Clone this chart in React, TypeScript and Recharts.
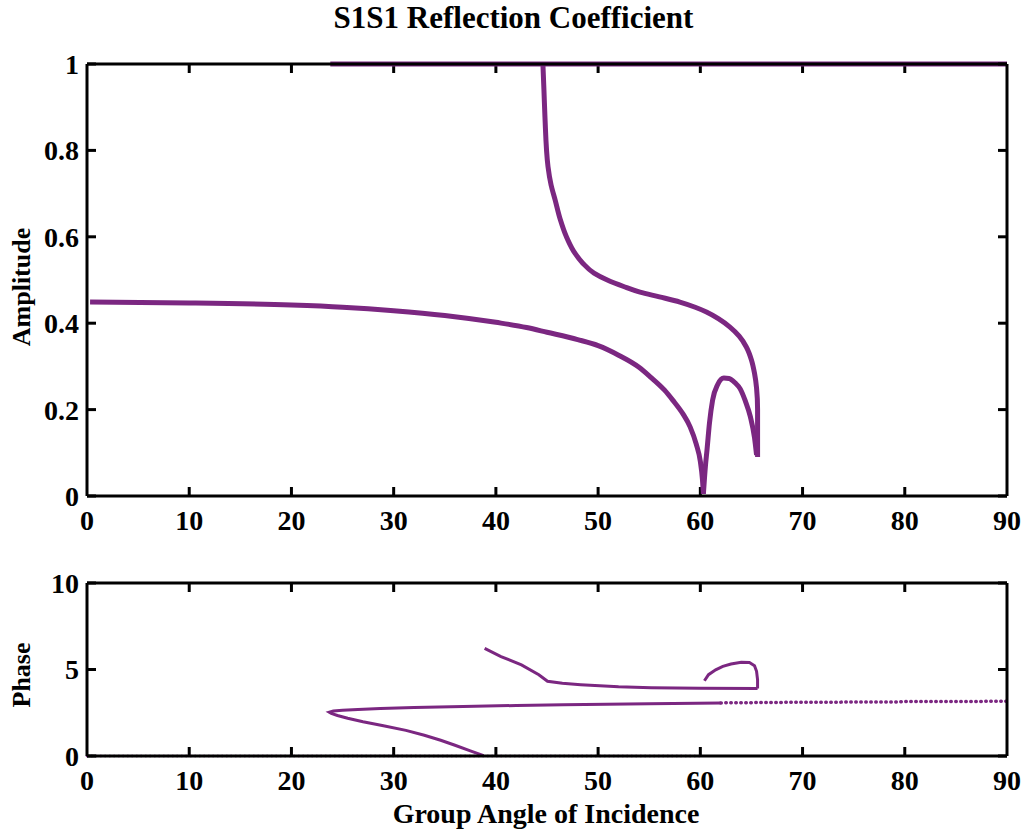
import { Line, LineChart, ReferenceLine, XAxis, YAxis } from "recharts";

// 反射係数 S1S1: 振幅と位相の分枝ごとの読み取り値 (x: 入射角[deg], y: 値)

const PURPLE = "#7b2781";
const FONT = "'Liberation Serif', 'Times New Roman', serif";

const angleTicks = [0, 10, 20, 30, 40, 50, 60, 70, 80, 90];
const ampTicks = [0, 0.2, 0.4, 0.6, 0.8, 1];
const phaseTicks = [0, 5, 10];

const ampLower = [
  { x: 0.3, y: 0.449 }, { x: 10, y: 0.447 }, { x: 20, y: 0.442 }, { x: 25, y: 0.437 },
  { x: 30, y: 0.429 }, { x: 35, y: 0.418 }, { x: 40, y: 0.402 }, { x: 43, y: 0.39 },
  { x: 45, y: 0.379 }, { x: 48, y: 0.362 }, { x: 50, y: 0.348 }, { x: 52, y: 0.326 },
  { x: 54, y: 0.298 }, { x: 55.1, y: 0.276 }, { x: 56.5, y: 0.245 }, { x: 57.3, y: 0.222 },
  { x: 58.3, y: 0.19 }, { x: 59, y: 0.16 }, { x: 59.6, y: 0.12 }, { x: 60, y: 0.08 },
  { x: 60.2, y: 0.04 }, { x: 60.3, y: 0.005 },
];

const ampLoop = [
  { x: 60.3, y: 0.005 }, { x: 60.5, y: 0.07 }, { x: 60.65, y: 0.106 }, { x: 60.9, y: 0.17 },
  { x: 61.2, y: 0.222 }, { x: 61.7, y: 0.258 }, { x: 62.3, y: 0.273 }, { x: 62.8, y: 0.272 },
  { x: 63.4, y: 0.262 }, { x: 63.9, y: 0.248 }, { x: 64.4, y: 0.22 }, { x: 64.9, y: 0.183 },
  { x: 65.3, y: 0.135 }, { x: 65.5, y: 0.095 },
];

const ampUpper = [
  { x: 44.6, y: 1 }, { x: 44.7, y: 0.94 }, { x: 44.8, y: 0.877 },
  { x: 45.1, y: 0.762 }, { x: 45.4, y: 0.72 }, { x: 45.8, y: 0.685 }, { x: 46.3, y: 0.64 },
  { x: 46.9, y: 0.6 }, { x: 47.6, y: 0.567 }, { x: 48.5, y: 0.539 }, { x: 49.6, y: 0.516 },
  { x: 50.9, y: 0.5 }, { x: 52.5, y: 0.485 }, { x: 54.1, y: 0.472 }, { x: 56, y: 0.461 },
  { x: 58, y: 0.449 }, { x: 59.5, y: 0.437 }, { x: 60.6, y: 0.426 }, { x: 61.8, y: 0.41 },
  { x: 62.9, y: 0.391 }, { x: 63.8, y: 0.37 }, { x: 64.5, y: 0.345 }, { x: 65, y: 0.315 },
  { x: 65.3, y: 0.284 }, { x: 65.5, y: 0.25 }, { x: 65.6, y: 0.2 }, { x: 65.6, y: 0.09 },
];

const ampTotal = [
  { x: 23.8, y: 1 }, { x: 90, y: 1 },
];

const phaseZero = [
  { x: 0, y: 0 }, { x: 60.3, y: 0 },
];

const phaseFold = [
  { x: 38.8, y: 0.02 }, { x: 37.5, y: 0.3 }, { x: 36, y: 0.62 }, { x: 34.6, y: 0.91 },
  { x: 33, y: 1.2 }, { x: 31.2, y: 1.48 }, { x: 29, y: 1.75 }, { x: 27, y: 1.98 },
  { x: 25.5, y: 2.18 }, { x: 24.5, y: 2.34 }, { x: 23.9, y: 2.46 }, { x: 23.7, y: 2.53 },
  { x: 24.1, y: 2.6 }, { x: 25, y: 2.64 }, { x: 26.5, y: 2.69 }, { x: 28.7, y: 2.74 },
  { x: 32, y: 2.8 }, { x: 36.8, y: 2.86 }, { x: 42, y: 2.92 }, { x: 46.6, y: 2.96 },
  { x: 55, y: 3.02 }, { x: 62, y: 3.07 },
];

const phaseFoldTail = [
  { x: 62, y: 3.07 }, { x: 70, y: 3.11 }, { x: 79, y: 3.12 }, { x: 80, y: 3.15 },
  { x: 90, y: 3.16 },
];

const phaseUpper = [
  { x: 38.9, y: 6.22 }, { x: 40.5, y: 5.75 }, { x: 42.5, y: 5.27 }, { x: 44.2, y: 4.7 },
  { x: 45.05, y: 4.32 }, { x: 46.5, y: 4.2 }, { x: 48.3, y: 4.12 }, { x: 52, y: 4.0 },
  { x: 55.2, y: 3.95 }, { x: 60, y: 3.92 }, { x: 65.6, y: 3.9 },
];

const phaseLoop = [
  { x: 60.4, y: 4.35 }, { x: 60.8, y: 4.7 }, { x: 61.5, y: 4.98 }, { x: 62.2, y: 5.18 },
  { x: 63, y: 5.32 }, { x: 64, y: 5.42 }, { x: 64.8, y: 5.4 }, { x: 65.3, y: 5.22 },
  { x: 65.5, y: 4.9 }, { x: 65.6, y: 4.4 }, { x: 65.6, y: 3.9 },
];

const tickStyle = { fill: "#000", fontSize: 28, fontWeight: "bold", fontFamily: FONT };
const axisLine = { stroke: "#000", strokeWidth: 3 };
const tickLine = { stroke: "#000", strokeWidth: 3 };
const noLabel = () => "";
const TICK_PX = 9;

// x軸ラベル (y は軸線の位置)
function BottomTick(props: any) {
  const { x, y, payload } = props;
  return (
    <text x={x} y={y + 34} textAnchor="middle" {...tickStyle}>
      {payload.value}
    </text>
  );
}

function axes(yTicks: number[], yDomain: [number, number]) {
  return [
    <XAxis
      key="xb"
      xAxisId={0}
      type="number"
      dataKey="x"
      domain={[0, 90]}
      ticks={angleTicks}
      interval={0}
      height={40}
      tick={<BottomTick />}
      tickSize={0}
      tickMargin={0}
      axisLine={axisLine}
      tickLine={false}
    />,
    <XAxis
      key="xt"
      xAxisId="top"
      orientation="top"
      type="number"
      dataKey="x"
      domain={[0, 90]}
      allowDataOverflow
      ticks={angleTicks}
      interval={0}
      height={10}
      tick={false}
      axisLine={axisLine}
      tickLine={false}
    />,
    <YAxis
      key="yl"
      yAxisId={0}
      type="number"
      domain={yDomain}
      ticks={yTicks}
      interval={0}
      width={87}
      tick={tickStyle}
      tickSize={-9}
      tickMargin={17}
      axisLine={axisLine}
      tickLine={tickLine}
    />,
    <YAxis
      key="yr"
      yAxisId="right"
      orientation="right"
      type="number"
      domain={yDomain}
      allowDataOverflow
      ticks={yTicks}
      interval={0}
      width={10}
      tickFormatter={noLabel}
      tickSize={-9}
      axisLine={axisLine}
      tickLine={tickLine}
    />,
  ];
}

// 上下の枠の内向き目盛り (目盛り値から引く短い線分)
function xFrameTicks(yDomain: [number, number], plotHeight: number) {
  const len = ((yDomain[1] - yDomain[0]) * TICK_PX) / plotHeight;
  return angleTicks
    .filter((t) => t > 0 && t < 90)
    .flatMap((t) => [
      <ReferenceLine
        key={`b${t}`}
        segment={[{ x: t, y: yDomain[0] }, { x: t, y: yDomain[0] + len }]}
        stroke="#000"
        strokeWidth={3}
      />,
      <ReferenceLine
        key={`t${t}`}
        segment={[{ x: t, y: yDomain[1] - len }, { x: t, y: yDomain[1] }]}
        stroke="#000"
        strokeWidth={3}
      />,
    ]);
}

function curve(
  name: string,
  data: { x: number; y: number }[],
  width: number,
  kind: "linear" | "monotoneX" | "monotoneY" = "linear",
  dash?: string,
) {
  return (
    <Line
      key={name}
      data={data}
      dataKey="y"
      type={kind}
      stroke={PURPLE}
      strokeWidth={width}
      strokeDasharray={dash}
      strokeLinecap={dash ? "round" : "butt"}
      dot={false}
      activeDot={false}
      isAnimationActive={false}
    />
  );
}

export default function App() {
  return (
    <div
      style={{
        position: "absolute",
        left: 0,
        top: 0,
        width: 1029,
        height: 834,
        background: "#fff",
        fontFamily: FONT,
        fontWeight: "bold",
        color: "#000",
      }}
    >
      <div style={{ position: "absolute", left: 0, top: 1, width: 1027, textAlign: "center", fontSize: 31, lineHeight: "34px" }}>
        S1S1 Reflection Coefficient
      </div>

      <div style={{ position: "absolute", left: 0, top: 0 }}>
        <LineChart width={1029} height={540} margin={{ top: 54, right: 12, bottom: 4, left: 0 }}>
          {axes(ampTicks, [0, 1])}
          {xFrameTicks([0, 1], 432)}
          {curve("ampLower", ampLower, 5, "monotoneX")}
          {curve("ampLoop", ampLoop, 5, "monotoneX")}
          {curve("ampUpper", ampUpper, 5, "monotoneY")}
          {curve("ampTotal", ampTotal, 5)}
        </LineChart>
      </div>

      <div style={{ position: "absolute", left: 0, top: 540 }}>
        <LineChart width={1029} height={294} margin={{ top: 33, right: 12, bottom: 38, left: 0 }}>
          {axes(phaseTicks, [0, 10])}
          {xFrameTicks([0, 10], 173)}
          {curve("phaseZero", phaseZero, 2.5, "linear", "0.5 4")}
          {curve("phaseFold", phaseFold, 3)}
          {curve("phaseFoldTail", phaseFoldTail, 3.5, "linear", "0.5 4.5")}
          {curve("phaseUpper", phaseUpper, 3)}
          {curve("phaseLoop", phaseLoop, 3)}
        </LineChart>
      </div>

      <div
        style={{
          position: "absolute",
          left: 22,
          top: 287,
          fontSize: 26,
          transform: "translate(-50%, -50%) rotate(-90deg)",
          whiteSpace: "nowrap",
        }}
      >
        Amplitude
      </div>
      <div
        style={{
          position: "absolute",
          left: 22,
          top: 675,
          fontSize: 26,
          transform: "translate(-50%, -50%) rotate(-90deg)",
          whiteSpace: "nowrap",
        }}
      >
        Phase
      </div>
      <div style={{ position: "absolute", left: 0, top: 798, width: 1092, textAlign: "center", fontSize: 28, lineHeight: "32px" }}>
        Group Angle of Incidence
      </div>
    </div>
  );
}
